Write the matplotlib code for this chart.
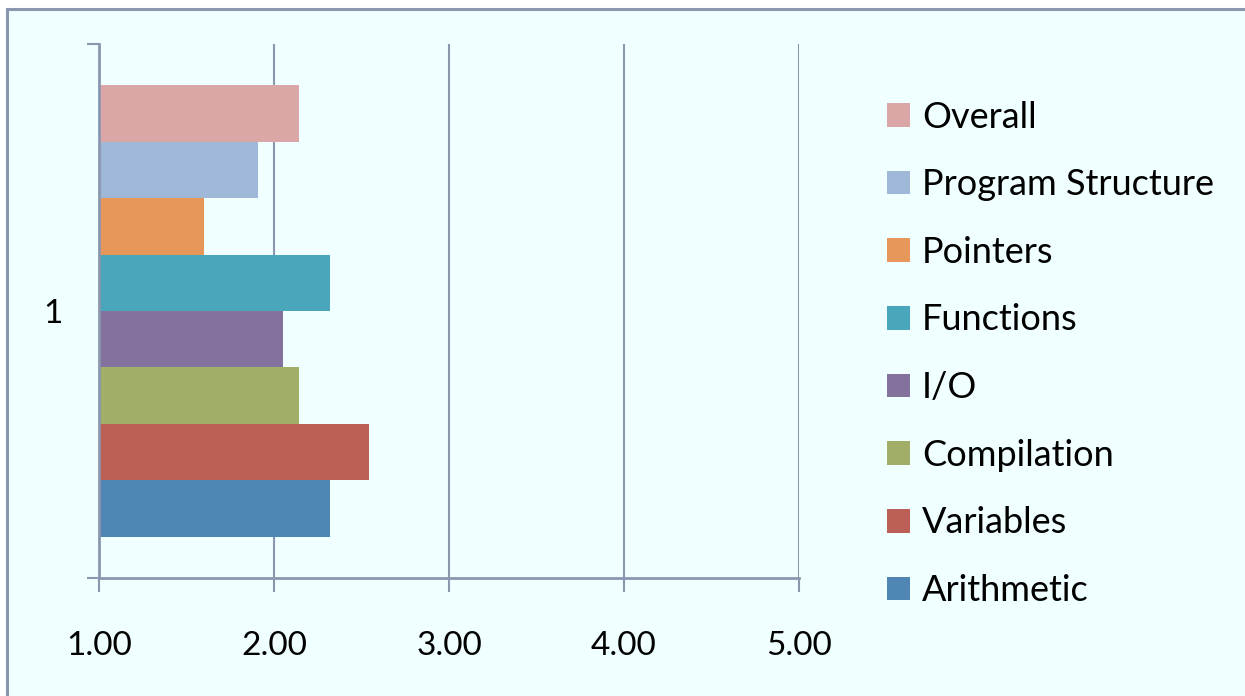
import matplotlib
matplotlib.use("Agg")
import matplotlib.pyplot as plt
from matplotlib.patches import Rectangle

# mean scores per topic, bottom to top as stacked in the chart
topics = ["Arithmetic", "Variables", "Compilation", "I/O",
          "Functions", "Pointers", "Program Structure", "Overall"]
scores = [2.32, 2.54, 2.14, 2.05, 2.32, 1.60, 1.91, 2.14]
colors = ["#4F86B4", "#BB5F57", "#A0AE68", "#83719E",
          "#4AA6BB", "#E69759", "#A0B8D7", "#DAA7A6"]
x_ticks = [1, 2, 3, 4, 5]
x_labels = ["1.00", "2.00", "3.00", "4.00", "5.00"]

plt.rcParams["font.family"] = ["Lato", "DejaVu Sans"]
grid_col = "#8A97AE"
bg = "#F0FFFF"

fig = plt.figure(figsize=(12.45, 6.96), dpi=100)
fig.patch.set_facecolor("white")
W, H = 1245, 696
# chart area frame
fig.patches.append(Rectangle((7 / W, -0.1), 1.1, 1.1 - 9.5 / H,
                             transform=fig.transFigure, facecolor=bg,
                             edgecolor=grid_col, linewidth=2.2, zorder=-10))

ax = fig.add_axes([99 / W, 1 - 578 / H, 700 / W, 534 / H])
ax.patch.set_alpha(0)

group = 0.845
h = group / len(topics)
for i, (name, val, c) in enumerate(zip(topics, scores, colors)):
    y = 1 - group / 2 + (i + 0.5) * h
    ax.barh(y, val - 1, left=1, height=h, color=c, label=name, zorder=3)

ax.set_xlim(1, 5)
ax.set_ylim(0.5, 1.5)
ax.set_xticks(x_ticks)
ax.set_xticklabels(x_labels, fontsize=24)
ax.tick_params(axis="x", direction="out", length=10, width=1.5,
               color=grid_col, pad=28.5)
ax.set_yticks([0.5, 1.5])
ax.set_yticklabels(["", ""])
ax.tick_params(axis="y", which="major", direction="out", length=9,
               width=1.5, color=grid_col)
ax.set_yticks([1], minor=True)
ax.set_yticklabels(["1"], minor=True, fontsize=24)
ax.tick_params(axis="y", which="minor", length=0, pad=26)

ax.grid(axis="x", color=grid_col, linewidth=1.5, zorder=1)
for s in ["top", "right"]:
    ax.spines[s].set_visible(False)
for s in ["left", "bottom"]:
    ax.spines[s].set_color(grid_col)
    ax.spines[s].set_linewidth(2)
    ax.spines[s].set_zorder(4)

handles, labels = ax.get_legend_handles_labels()
leg = ax.legend(handles[::-1], labels[::-1], loc="upper left",
                bbox_to_anchor=(887 / W, 1 - 100.5 / H),
                bbox_transform=fig.transFigure, frameon=False,
                fontsize=26, handlelength=0.64, handleheight=0.64,
                handletextpad=0.33, labelspacing=0.96, borderpad=0,
                borderaxespad=0)

fig.savefig("out.png", dpi=100, facecolor=fig.get_facecolor())
